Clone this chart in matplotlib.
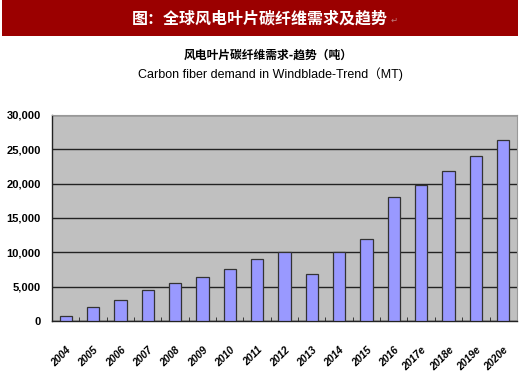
import numpy as np
import matplotlib.pyplot as plt
import matplotlib.transforms as mtransforms
from matplotlib.ticker import FuncFormatter
from matplotlib.patches import Rectangle

plt.rcParams['font.family'] = ['Noto Sans CJK SC', 'DejaVu Sans']

# data (tonnes)
years = ['2004', '2005', '2006', '2007', '2008', '2009', '2010', '2011', '2012',
         '2013', '2014', '2015', '2016', '2017e', '2018e', '2019e', '2020e']
demand = [700, 2100, 3000, 4500, 5500, 6400, 7500, 9000, 10000,
          6800, 10000, 12000, 18000, 19800, 21900, 24000, 26300]
yticks = [0, 5000, 10000, 15000, 20000, 25000, 30000]

fig = plt.figure(figsize=(5.2, 3.88), dpi=100)

# red title bar
fig.patches.append(Rectangle((0.004, 0.907), 0.992, 0.093, transform=fig.transFigure,
                             facecolor='#9b0000', edgecolor='none', zorder=0))
fig.text(0.5, 0.953, '图：全球风电叶片碳纤维需求及趋势', color='white', fontsize=11.5,
         fontweight='bold', ha='center', va='center')
fig.text(0.752, 0.948, '↵', color='#c08080', fontsize=6, ha='left', va='center',
         family=['DejaVu Sans'])

# chart titles
fig.text(0.515, 0.858, '风电叶片碳纤维需求-趋势（吨）', fontsize=8.5, fontweight='bold',
         ha='center', va='center')
fig.text(0.52, 0.808, 'Carbon fiber demand in Windblade-Trend（MT)', fontsize=9,
         ha='center', va='center', family=['Liberation Sans', 'Noto Sans CJK SC'])

ax = fig.add_axes([0.1, 0.1727, 0.894, 0.531])
x = np.arange(len(years))
ax.bar(x, demand, width=0.45, color='#9999ff', edgecolor='#333333', linewidth=0.9, zorder=3)

ax.set_facecolor('#c0c0c0')
ax.set_xlim(-0.5, len(years) - 0.5)
ax.set_ylim(0, 30000)
ax.set_yticks(yticks)
ax.yaxis.set_major_formatter(FuncFormatter(lambda v, p: f'{int(v):,}'))
ax.grid(axis='y', color='#222222', linewidth=1.0, zorder=1)
ax.tick_params(axis='y', length=0, pad=8)
for lab in ax.get_yticklabels():
    lab.set_family('Liberation Sans')
    lab.set_fontsize(8)
    lab.set_fontweight('bold')

ax.set_xticks(x)
ax.set_xticklabels(years, rotation=45, ha='right', rotation_mode='anchor',
                   fontsize=7.5, fontweight='bold', fontstyle='italic',
                   family='Liberation Sans')
shift = mtransforms.ScaledTranslation(-5 / 100, 0, fig.dpi_scale_trans)
for lab in ax.get_xticklabels():
    lab.set_transform(lab.get_transform() + shift)
ax.set_xticks(np.arange(len(years) + 1) - 0.5, minor=True)
ax.tick_params(axis='x', which='major', length=0, pad=17)
ax.tick_params(axis='x', which='minor', direction='in', length=3, color='#222222')

for s in ['top', 'right']:
    ax.spines[s].set_color('#999999')
    ax.spines[s].set_linewidth(0.8)
for s in ['left', 'bottom']:
    ax.spines[s].set_color('#222222')
    ax.spines[s].set_linewidth(1.0)

fig.savefig('out.png', dpi=100)
